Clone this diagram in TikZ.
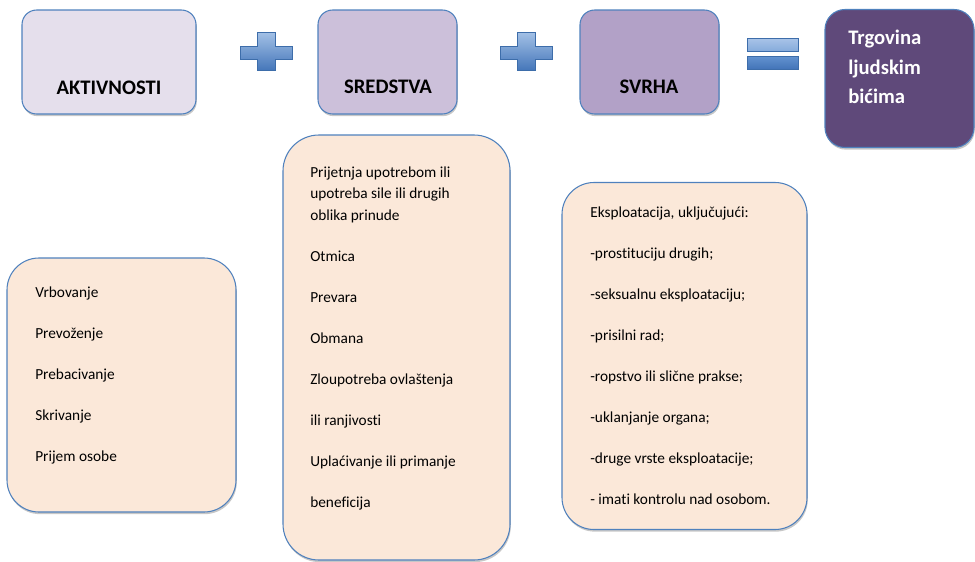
\documentclass[tikz,border=0pt]{standalone}
\usepackage{fontspec}
\setmainfont{Carlito}[Ligatures=NoCommon]
\usetikzlibrary{shadows}
\definecolor{bordercol}{HTML}{4F81BD}
\definecolor{aktfill}{HTML}{E5DFEC}
\definecolor{sredfill}{HTML}{CCC0DA}
\definecolor{svrhafill}{HTML}{B2A1C7}
\definecolor{trgfill}{HTML}{5F497A}
\definecolor{listfill}{HTML}{FBE8D9}
\definecolor{plustop}{HTML}{A3C1E6}
\definecolor{plusbot}{HTML}{4677BA}
\definecolor{plusedge}{HTML}{3D6DAA}
\definecolor{eqtopA}{HTML}{A9C4E8}
\definecolor{eqtopB}{HTML}{86ABDB}
\definecolor{eqbotA}{HTML}{6393D0}
\definecolor{eqbotB}{HTML}{4374B8}
\begin{document}
\begin{tikzpicture}[x=0.75pt,y=-0.75pt,
  shadowed/.style={drop shadow={shadow xshift=0.6pt,shadow yshift=-1.6pt,opacity=0.22,fill=black}},
  hdrbox/.style={draw=bordercol,line width=0.8pt,rounded corners=11pt,inner sep=0pt,shadowed},
  listbox/.style={draw=bordercol,line width=0.8pt,fill=listfill,inner sep=0pt,shadowed},
  hdrtext/.style={font=\fontsize{15.5}{18}\selectfont\bfseries,inner sep=0pt,anchor=base},
  trgtext/.style={font=\fontsize{15.5}{18}\selectfont\bfseries,text=white,inner sep=0pt,anchor=base west},
  item/.style={font=\fontsize{11.5}{14}\selectfont,inner sep=0pt,anchor=base west},
  plusshape/.style={draw=plusedge,line width=0.4pt,top color=plustop,bottom color=plusbot}
]
\useasboundingbox (0,0) rectangle (975,561);

% header boxes
\node[hdrbox,fill=aktfill,minimum width=130.5pt,minimum height=78pt] (akt) at (109,62) {};
\node[hdrbox,fill=sredfill,minimum width=104.25pt,minimum height=78pt] (sred) at (387.5,62) {};
\node[hdrbox,fill=svrhafill,minimum width=104.25pt,minimum height=78pt] (svrha) at (649.5,62) {};
\node[hdrbox,fill=trgfill,rounded corners=15pt,minimum width=111.75pt,minimum height=103.5pt] (trg) at (899.5,78.5) {};

\node[hdrtext] (aktlbl) at (109,94) {AKTIVNOSTI};
\node[hdrtext] (sredlbl) at (388,93) {SREDSTVA};
\node[hdrtext] (svrhalbl) at (649,93) {SVRHA};
\node[trgtext] (trg1) at (848,44) {Trgovina};
\node[trgtext] (trg2) at (848,74) {ljudskim};
\node[trgtext] (trg3) at (848,103) {bićima};

% plus signs
\draw[plusshape] (240,46) -- (257,46) -- (257,32) -- (275,32) -- (275,46) -- (292,46)
  -- (292,59) -- (275,59) -- (275,70) -- (257,70) -- (257,59) -- (240,59) -- cycle;
\draw[plusshape] (500,46) -- (517,46) -- (517,32) -- (535,32) -- (535,46) -- (552,46)
  -- (552,59) -- (535,59) -- (535,70) -- (517,70) -- (517,59) -- (500,59) -- cycle;

% equals sign
\draw[draw=plusedge,line width=0.4pt,top color=eqtopA,bottom color=eqtopB] (747,38) rectangle (798,51);
\draw[draw=plusedge,line width=0.4pt,top color=eqbotA,bottom color=eqbotB] (747,56) rectangle (798,69);

% list boxes
\node[listbox,rounded corners=24pt,minimum width=171.75pt,minimum height=190.5pt] (aktlist) at (121.5,385) {};
\node[listbox,rounded corners=27pt,minimum width=170.25pt,minimum height=318.75pt] (sredlist) at (396.5,347.5) {};
\node[listbox,rounded corners=24pt,minimum width=183.75pt,minimum height=260.25pt] (svrhalist) at (684.5,356) {};

% left list
\node[item] (a1) at (35,297) {Vrbovanje};
\node[item] (a2) at (35,338) {Prevoženje};
\node[item] (a3) at (35,379) {Prebacivanje};
\node[item] (a4) at (35,420) {Skrivanje};
\node[item] (a5) at (35,461) {Prijem osobe};

% middle list
\node[item] (s1) at (310,177) {Prijetnja upotrebom ili};
\node[item] (s2) at (310,198.5) {upotreba sile ili drugih};
\node[item] (s3) at (310,220) {oblika prinude};
\node[item] (s4) at (310,261) {Otmica};
\node[item] (s5) at (310,302) {Prevara};
\node[item] (s6) at (310,343) {Obmana};
\node[item] (s7) at (310,384) {Zloupotreba ovlaštenja};
\node[item] (s8) at (310,425) {ili ranjivosti};
\node[item] (s9) at (310,466) {Uplaćivanje ili primanje};
\node[item] (s10) at (310,507) {beneficija};

% right list
\node[item] (v1) at (590,217) {Eksploatacija, uključujući:};
\node[item] (v2) at (590,258) {-prostituciju drugih;};
\node[item] (v3) at (590,299) {-seksualnu eksploataciju;};
\node[item] (v4) at (590,340) {-prisilni rad;};
\node[item] (v5) at (590,381) {-ropstvo ili slične prakse;};
\node[item] (v6) at (590,422) {-uklanjanje organa;};
\node[item] (v7) at (590,463) {-druge vrste eksploatacije;};
\node[item] (v8) at (590,504) {- imati kontrolu nad osobom.};
\end{tikzpicture}
\end{document}
